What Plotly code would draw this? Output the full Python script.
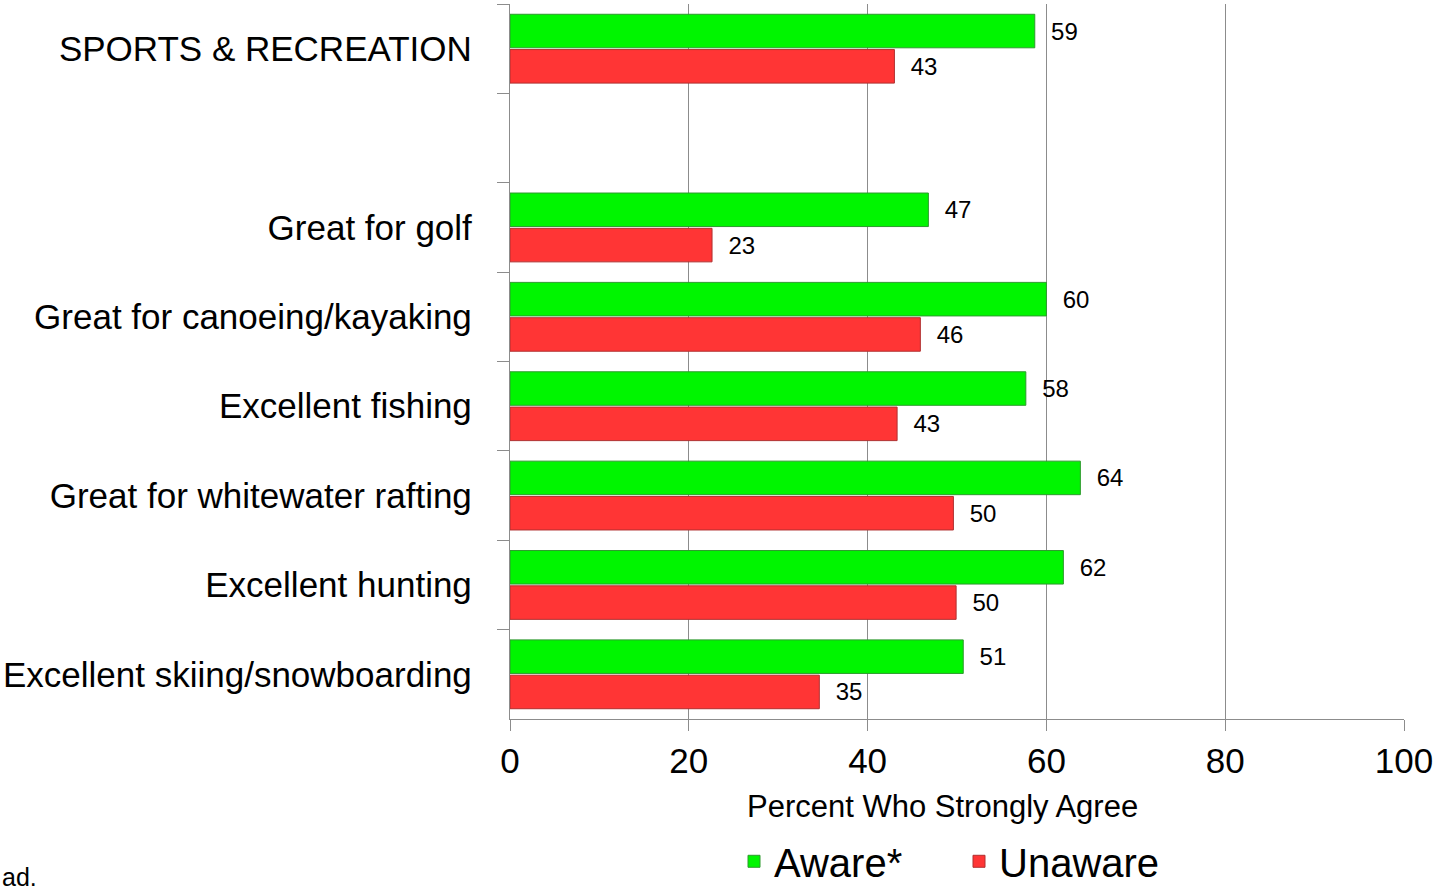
import plotly.graph_objects as go

categories = [
    "SPORTS & RECREATION",
    " ",
    "Great for golf",
    "Great for canoeing/kayaking",
    "Excellent fishing",
    "Great for whitewater rafting",
    "Excellent hunting",
    "Excellent skiing/snowboarding",
]
aware = [58.7, None, 46.8, 60.0, 57.7, 63.8, 61.9, 50.7]
unaware = [43.0, None, 22.6, 45.9, 43.3, 49.6, 49.9, 34.6]
x_ticks = [0, 20, 40, 60, 80, 100]

FONT = "Liberation Sans, Arial, sans-serif"

def labels(vals):
    return ["" if v is None else "\u00a0\u00a0" + f"{v:.0f}" for v in vals]

fig = go.Figure()
fig.add_trace(go.Bar(
    y=categories, x=aware, orientation="h", name="Aware*",
    marker=dict(color="#00f500", line=dict(color="#2e9a2e", width=1)),
    text=labels(aware), textposition="outside", cliponaxis=False,
    textfont=dict(family=FONT, size=24, color="#000"),
))
fig.add_trace(go.Bar(
    y=categories, x=unaware, orientation="h", name="Unaware",
    marker=dict(color="#ff3535", line=dict(color="#b03030", width=1)),
    text=labels(unaware), textposition="outside", cliponaxis=False,
    textfont=dict(family=FONT, size=24, color="#000"),
))

fig.update_layout(
    width=1435, height=893,
    margin=dict(l=510, r=31, t=4, b=174, autoexpand=False),
    paper_bgcolor="white", plot_bgcolor="white",
    barmode="group", bargap=0.21, bargroupgap=0.05,
    font=dict(family=FONT, color="#000"),
    showlegend=True,
    legend=dict(
        orientation="h", x=(734 - 510) / 894, xanchor="left", y=-0.199, yanchor="middle",
        font=dict(family=FONT, size=40, color="#000"),
        itemwidth=30, traceorder="normal", entrywidth=180,
    ),
    xaxis=dict(
        range=[0, 100], tickvals=x_ticks, ticktext=[str(t) for t in x_ticks],
        showgrid=True, gridcolor="#8c8c8c", gridwidth=1.3,
        showline=True, linecolor="#8c8c8c", linewidth=1.3,
        ticks="outside", ticklen=11, tickcolor="#8c8c8c", tickwidth=1.3,
        tickfont=dict(family=FONT, size=35, color="#000"),
        zeroline=False, automargin=False,
    ),
    yaxis=dict(
        categoryorder="array", categoryarray=categories, autorange="reversed",
        showgrid=False, showline=True, linecolor="#8c8c8c", linewidth=1.3,
        ticks="outside", ticklen=12, tickcolor="#8c8c8c", tickwidth=1.3,
        tickson="boundaries", ticklabelstandoff=30, automargin=False,
        tickfont=dict(family=FONT, size=35, color="#000"),
    ),
    annotations=[
        dict(text="Percent Who Strongly Agree", xref="paper", yref="paper",
             x=(942 - 510) / 894, y=(719 - 806) / 715, xanchor="center", yanchor="middle",
             showarrow=False, font=dict(family=FONT, size=31, color="#000")),
        dict(text="ad.", xref="paper", yref="paper",
             x=-510 / 894, y=(719 - 877) / 715, xanchor="left", yanchor="middle",
             showarrow=False, font=dict(family=FONT, size=25, color="#000")),
    ],
)

fig.write_html("out.html", config={"displayModeBar": False},
               post_script="document.body.style.margin='0';document.body.style.overflow='hidden';")
